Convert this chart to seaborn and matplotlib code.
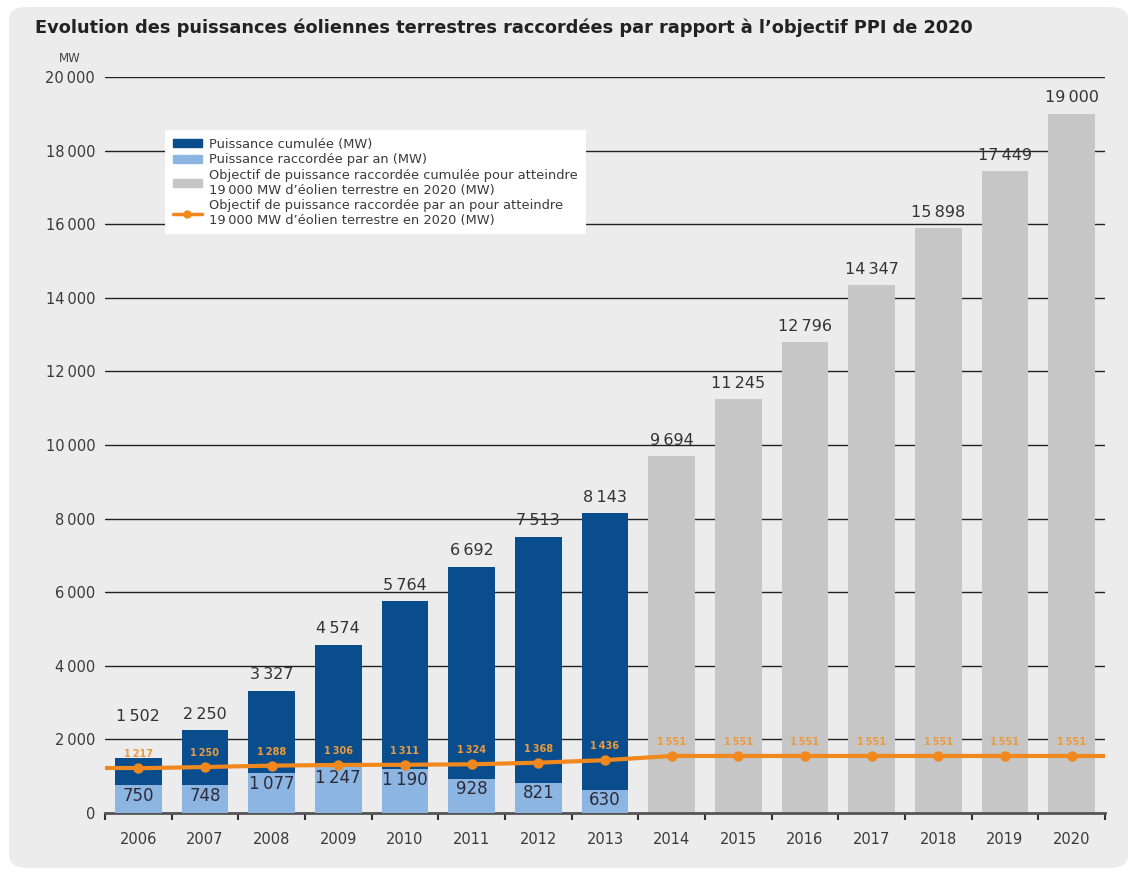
import matplotlib
matplotlib.use("Agg")
import matplotlib.pyplot as plt
import seaborn as sns
import pandas as pd
import numpy as np
from matplotlib.patches import Patch, FancyBboxPatch
from matplotlib.lines import Line2D
from matplotlib.ticker import FuncFormatter, FixedLocator

# --- data -------------------------------------------------------------
years = list(range(2006, 2021))
cumulative = [1502, 2250, 3327, 4574, 5764, 6692, 7513, 8143,
              9694, 11245, 12796, 14347, 15898, 17449, 19000]
annual = [750, 748, 1077, 1247, 1190, 928, 821, 630]
target_annual = [1217, 1250, 1288, 1306, 1311, 1324, 1368, 1436,
                 1551, 1551, 1551, 1551, 1551, 1551, 1551]
kind = ["réalisé"] * len(annual) + ["objectif"] * (len(years) - len(annual))

legend_labels = [
    "Puissance cumulée (MW)",
    "Puissance raccordée par an (MW)",
    "Objectif de puissance raccordée cumulée pour atteindre\n19\u2009000 MW d’éolien terrestre en 2020 (MW)",
    "Objectif de puissance raccordée par an pour atteindre\n19\u2009000 MW d’éolien terrestre en 2020 (MW)",
]
title = "Evolution des puissances éoliennes terrestres raccordées par rapport à l’objectif PPI de 2020"

# --- style ------------------------------------------------------------
DARK = "#0a4d8c"
LIGHT = "#8db5e2"
GREY = "#c6c6c6"
ORANGE = "#f0881e"
PANEL = "#ececec"
TEXT = "#333333"

sns.set_theme(style="white")
plt.rcParams["font.family"] = ["DejaVu Sans"]


def fr(v):
    return f"{int(v):,}".replace(",", "\u2009")


fig = plt.figure(figsize=(11.36, 8.73), dpi=100)
fig.patch.set_facecolor("white")
fig.patches.append(FancyBboxPatch((0.008, 0.006), 0.985, 0.986,
                                  boxstyle="round,pad=0,rounding_size=0.015",
                                  transform=fig.transFigure, fc=PANEL, ec="none",
                                  zorder=-10))

ax = fig.add_axes([0.0924, 0.0687, 0.8803, 0.8431])
ax.set_facecolor("none")

df = pd.DataFrame({"year": years, "cumul": cumulative, "kind": kind,
                   "target": target_annual})
df_annual = pd.DataFrame({"year": years[:len(annual)], "annual": annual})

sns.barplot(data=df, x="year", y="cumul", hue="kind",
            palette={"réalisé": DARK, "objectif": GREY},
            dodge=False, width=0.7, saturation=1, native_scale=True,
            legend=False, ax=ax, zorder=2, edgecolor="none", linewidth=0)
sns.barplot(data=df_annual, x="year", y="annual", color=LIGHT,
            width=0.7, saturation=1, native_scale=True, ax=ax, zorder=3,
            edgecolor="none", linewidth=0)

ax.set_xlim(years[0] - 0.5, years[-1] + 0.5)
ax.set_ylim(0, 20000)

# yearly target line, carried flat to both edges of the plot
x0, x1 = ax.get_xlim()
ax.plot([x0, years[0]], [target_annual[0]] * 2, color=ORANGE, lw=3,
        solid_capstyle="butt", zorder=4)
ax.plot([years[-1], x1], [target_annual[-1]] * 2, color=ORANGE, lw=3,
        solid_capstyle="butt", zorder=4)
sns.lineplot(data=df, x="year", y="target", color=ORANGE, lw=3,
             marker="o", markersize=7.5, markeredgewidth=0, ax=ax, zorder=5)

# value labels
for i, (yr, v) in enumerate(zip(years, cumulative)):
    lift = 24 if v - target_annual[i] < 800 else 6
    ax.annotate(fr(v), (yr, v), xytext=(0, lift), textcoords="offset points",
                ha="center", va="bottom", fontsize=11.5, color=TEXT)
for yr, v in zip(years, annual):
    ax.annotate(fr(v), (yr, v), xytext=(0, -1), textcoords="offset points",
                ha="center", va="top", fontsize=12, color="#2b2b3a", zorder=6)
for yr, v in zip(years, target_annual):
    ax.annotate(fr(v), (yr, v), xytext=(0, 10), textcoords="offset points",
                ha="center", va="center", fontsize=7, fontweight="bold",
                color="#ee9a3c", zorder=6)

# axes
ax.set_xlabel("")
ax.set_ylabel("")
ax.set_yticks(np.arange(0, 20001, 2000))
ax.yaxis.set_major_formatter(FuncFormatter(lambda v, p: fr(v)))
ax.set_xticks(years)
ax.set_xticklabels([str(y) for y in years])
ax.xaxis.set_minor_locator(FixedLocator(np.arange(years[0] - 0.5, years[-1] + 1)))
ax.tick_params(axis="y", length=0, pad=7, labelsize=10.5, labelcolor="#3a3a3a")
ax.tick_params(axis="x", which="major", length=0, pad=14, labelsize=10.5,
               labelcolor="#3a3a3a")
ax.tick_params(axis="x", which="minor", length=5, width=1.5, color="#333333",
               direction="out", bottom=True)
ax.yaxis.grid(True, color="#222222", lw=1.0)
ax.set_axisbelow(True)
for s in ["left", "top", "right"]:
    ax.spines[s].set_visible(False)
ax.spines["bottom"].set_color("#555555")
ax.spines["bottom"].set_linewidth(2)

# legend
handles = [
    Patch(color=DARK),
    Patch(color=LIGHT),
    Patch(color=GREY),
    Line2D([], [], color=ORANGE, lw=2.5, marker="o", markersize=6,
           markeredgewidth=0),
]
leg = ax.legend(handles, legend_labels, loc="upper left",
                bbox_to_anchor=(0.06, 0.928), borderaxespad=0,
                fontsize=9.4, handlelength=2.2, handleheight=0.5,
                labelspacing=0.2, borderpad=0.6, handletextpad=0.6,
                frameon=True, fancybox=False, framealpha=1)
leg.get_frame().set_facecolor("white")
leg.get_frame().set_edgecolor("none")
for t in leg.get_texts():
    t.set_color("#3a3a3a")
    t.set_linespacing(1.15)

fig.text(70 / 1136, 1 - 58 / 873, "MW", fontsize=8.5, ha="center",
         va="center", color="#444444")
fig.text(35 / 1136, 1 - 28 / 873, title, fontsize=12.8, fontweight="bold",
         ha="left", va="center", color="#222222")

fig.savefig("out.png", dpi=100)
